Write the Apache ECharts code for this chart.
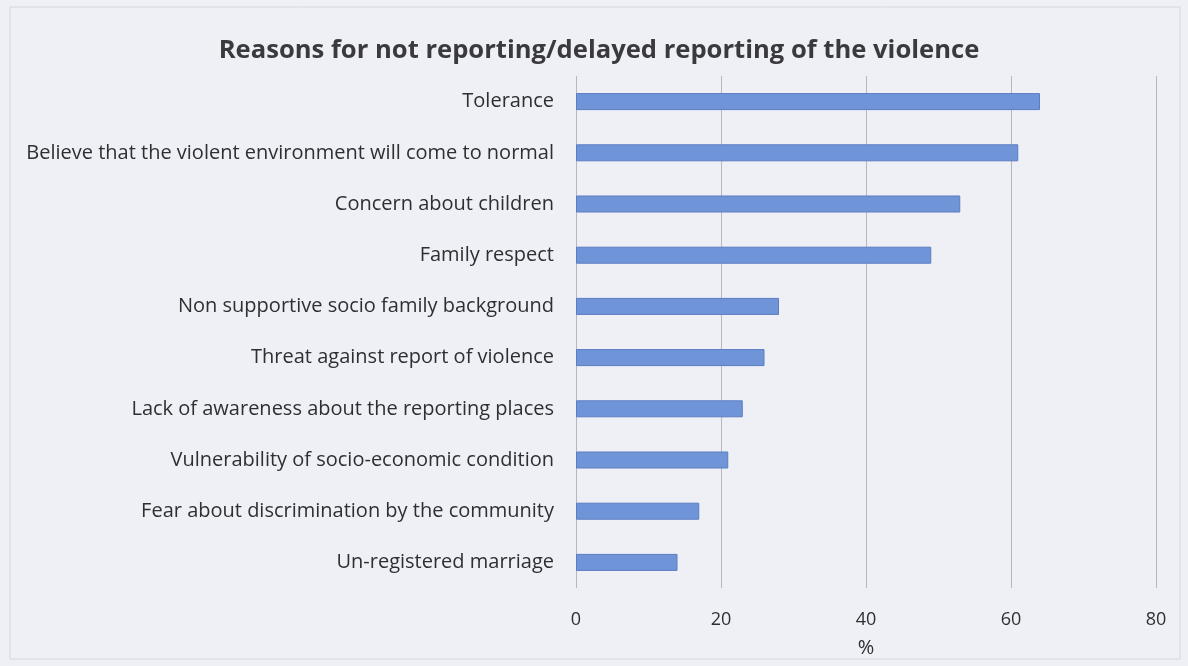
<!DOCTYPE html>
<html>
<head>
<meta charset="utf-8">
<title>Reasons for not reporting/delayed reporting of the violence</title>
<script src="https://cdn.jsdelivr.net/npm/echarts@6/dist/echarts.min.js"></script>
<style>
  html, body { margin: 0; padding: 0; background: #eef0f6; }
  #chart { width: 1188px; height: 666px; }
</style>
</head>
<body>
<div id="chart"></div>
<script>
// Reasons, listed top to bottom as shown
const categories = [
  'Tolerance',
  'Believe that the violent environment will come to normal',
  'Concern about children',
  'Family respect',
  'Non supportive socio family background',
  'Threat against report of violence',
  'Lack of awareness about the reporting places',
  'Vulnerability of socio-economic condition',
  'Fear about discrimination by the community',
  'Un-registered marriage'
];

// Share of respondents (%) per reason
const percentValues = [64, 61, 53, 49, 28, 26, 23, 21, 17, 14];

// Value axis ticks
const xTicks = [0, 20, 40, 60, 80];

const FONT = '"Open Sans", Lato, sans-serif';
const TEXT = '#2f2f33';

const chart = echarts.init(document.getElementById('chart'));

chart.setOption({
  backgroundColor: '#eef0f6',
  animation: false,
  title: {
    text: 'Reasons for not reporting/delayed reporting of the violence',
    left: 594,
    top: 33,
    textAlign: 'center',
    textStyle: {
      fontFamily: FONT,
      fontSize: 25.6,
      fontWeight: 'bold',
      color: '#3a3a3e'
    }
  },
  graphic: [{
    type: 'rect',
    shape: { x: 10, y: 7, width: 1170, height: 652 },
    style: { fill: 'none', stroke: '#d4d6dc', lineWidth: 1 },
    silent: true
  }],
  grid: {
    left: 576,
    right: 32,
    top: 76,
    bottom: 78,
    containLabel: false
  },
  xAxis: {
    type: 'value',
    min: xTicks[0],
    max: xTicks[xTicks.length - 1],
    interval: xTicks[1] - xTicks[0],
    name: '%',
    nameLocation: 'middle',
    nameGap: 50,
    nameTextStyle: { fontFamily: FONT, fontSize: 20, color: TEXT },
    axisLine: { show: false },
    axisTick: { show: false },
    axisLabel: {
      fontFamily: FONT,
      fontSize: 18,
      color: TEXT,
      margin: 23
    },
    splitLine: {
      show: true,
      lineStyle: { color: '#b9b6b9', width: 1 }
    }
  },
  yAxis: {
    type: 'category',
    data: categories,
    inverse: true,
    axisLine: { show: false },
    axisTick: { show: false },
    axisLabel: {
      fontFamily: FONT,
      fontSize: 20,
      color: TEXT,
      margin: 22
    },
    splitLine: { show: false }
  },
  series: [{
    type: 'bar',
    data: percentValues,
    barWidth: 17,
    itemStyle: {
      color: '#6f95d8',
      borderColor: '#5a7cc0',
      borderWidth: 1
    }
  }]
});
</script>
</body>
</html>
